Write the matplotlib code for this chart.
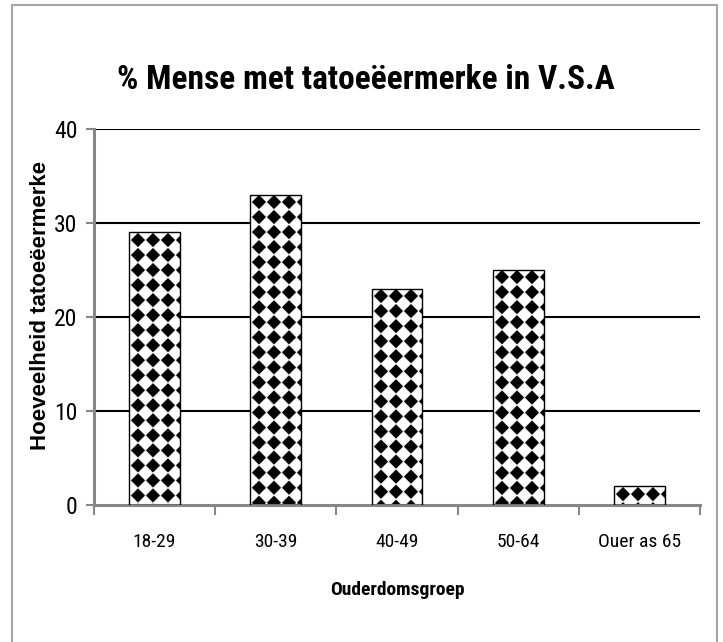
import numpy as np
import matplotlib
matplotlib.use("Agg")
import matplotlib.pyplot as plt
from matplotlib import font_manager as fm
from matplotlib.patches import Rectangle

categories = ["18-29", "30-39", "40-49", "50-64", "Ouer as 65"]
values = [29, 33, 23, 25, 2]
yticks = [0, 10, 20, 30, 40]
title = "% Mense met tatoeëermerke in V.S.A"
xlabel = "Ouderdomsgroep"
ylabel = "Hoeveelheid tatoeëermerke"

names = {f.name for f in fm.fontManager.ttflist}
narrow = None
for cand in ["Liberation Sans Narrow", "Arial Narrow", "Roboto Condensed", "Open Sans Condensed", "DejaVu Sans Condensed"]:
    if cand in names:
        narrow = cand
        break
if narrow is None:
    narrow = "DejaVu Sans"

W, H, DPI = 7.23, 6.42, 100
fig = plt.figure(figsize=(W, H), dpi=DPI)
fig.patch.set_facecolor("white")

# outer border
fig.add_artist(Rectangle((12 / 723, -0.01), (717 - 12) / 723, 1 - 5 / 642 + 0.01,
                         transform=fig.transFigure, fill=False, edgecolor="#a6a6a6", lw=1.5))

left, right, top, bottom = 94, 700, 129, 505
ax = fig.add_axes([left / 723, 1 - bottom / 642, (right - left) / 723, (bottom - top) / 642])
ax.set_xlim(-0.5, len(categories) - 0.5)
ax.set_ylim(0, 40)

x = np.arange(len(categories))
bars = ax.bar(x, values, width=0.42, facecolor="none", edgecolor="black", linewidth=1.0, zorder=3)

# diamond pattern fill clipped to each bar
s = 15.0
r = 0.48 * s
for rect in bars:
    x0, y0 = rect.get_x(), rect.get_y()
    x1, y1 = x0 + rect.get_width(), y0 + rect.get_height()
    (px0, py0), (px1, py1) = ax.transData.transform([(x0, y0), (x1, y1)])
    wpx, hpx = px1 - px0, py1 - py0
    ss = 4
    nx, ny = max(int(round(wpx * ss)), 1), max(int(round(hpx * ss)), 1)
    xs = (np.arange(nx) + 0.5) / ss
    ys = (np.arange(ny) + 0.5) / ss  # from top
    X, Y = np.meshgrid(xs, ys)
    dx = X - wpx / 2 + 1.5
    dy = Y - 8
    ddx = np.mod(dx + s / 2, s) - s / 2
    ddy = np.mod(dy + s / 2, s) - s / 2
    black = (np.abs(ddx) + np.abs(ddy)) < r
    img = np.where(black, 0.0, 1.0)
    im = ax.imshow(img, cmap="gray", vmin=0, vmax=1, extent=(x0, x1, y0, y1),
                   origin="upper", aspect="auto", interpolation="antialiased", zorder=2.5)
    im.set_clip_path(rect)

ax.set_xlim(-0.5, len(categories) - 0.5)
ax.set_ylim(0, 40)

for yv in yticks[1:]:
    ax.axhline(yv, color="black", lw=1.5, zorder=1)

for sp in ["top", "right"]:
    ax.spines[sp].set_visible(False)
for sp in ["left", "bottom"]:
    ax.spines[sp].set_color("#878787")
    ax.spines[sp].set_linewidth(2.2)

ax.set_yticks(yticks)
ax.set_yticklabels([str(v) for v in yticks], fontfamily=narrow, fontsize=17)
ax.tick_params(axis="y", length=6, width=1.5, color="#878787", pad=6)

ax.set_xticks(x)
ax.set_xticklabels(categories, fontfamily=narrow, fontsize=14)
ax.tick_params(axis="x", length=0, pad=20)
ax.set_xticks(np.arange(len(categories) + 1) - 0.5, minor=True)
ax.tick_params(axis="x", which="minor", length=7, width=1.5, color="#878787")

fig.text(397 / 723, 1 - 590 / 642, xlabel, ha="center", va="center",
         fontfamily=narrow, fontweight="bold", fontsize=14)
fig.text(41 / 723, 1 - 305 / 642, ylabel, ha="center", va="center", rotation=90,
         fontfamily="Liberation Sans", fontweight="bold", fontsize=16)

fig.text(366 / 723, 1 - 80 / 642, title, ha="center", va="center",
         fontfamily=narrow, fontweight="bold", fontsize=24)

fig.savefig("out.png", dpi=DPI, facecolor="white")
